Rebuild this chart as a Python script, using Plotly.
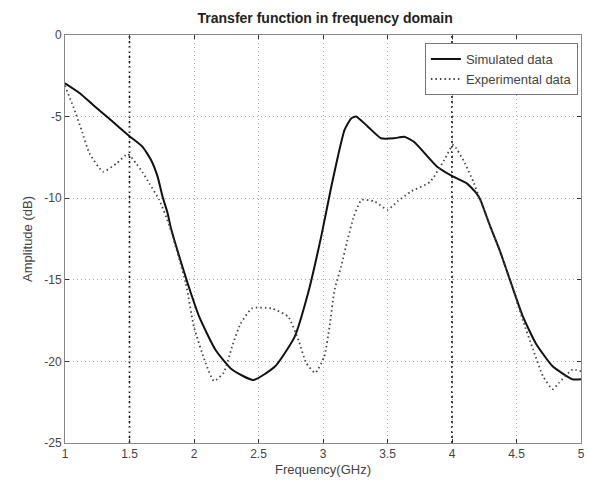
import plotly.graph_objects as go

# Data
freq_sim = [1.0, 1.115, 1.218, 1.346, 1.423, 1.5, 1.6, 1.667, 1.718, 1.756, 1.795, 1.82, 1.86,
            1.95, 2.04, 2.167, 2.295, 2.46, 2.63, 2.78, 2.885, 2.99, 3.064, 3.115, 3.167, 3.22,
            3.256, 3.346, 3.45, 3.55, 3.63, 3.705, 3.885, 4.01, 4.115, 4.19, 4.22, 4.295, 4.37,
            4.475, 4.55, 4.65, 4.78, 4.935, 5.0]
amp_sim = [-2.96, -3.57, -4.29, -5.15, -5.68, -6.2, -6.84, -7.66, -8.68, -9.9, -10.9, -11.8,
           -12.9, -15.2, -17.26, -19.3, -20.5, -21.14, -20.3, -18.5, -15.8, -12.2, -9.3, -7.46,
           -5.82, -5.1, -5.0, -5.6, -6.33, -6.33, -6.23, -6.54, -8.07, -8.68, -9.09, -9.7, -10.1,
           -11.7, -13.2, -15.6, -17.26, -18.9, -20.3, -21.1, -21.1]

freq_exp = [1.0, 1.064, 1.128, 1.19, 1.295, 1.40, 1.487, 1.55, 1.6, 1.654, 1.73, 1.81, 1.936,
            2.0, 2.09, 2.154, 2.23, 2.295, 2.36, 2.45, 2.60, 2.73, 2.81, 2.87, 2.94, 3.01, 3.05,
            3.09, 3.14, 3.19, 3.24, 3.3, 3.4, 3.5, 3.577, 3.68, 3.83, 3.94, 4.01, 4.10, 4.17,
            4.295, 4.37, 4.475, 4.55, 4.63, 4.705, 4.78, 4.83, 4.935, 5.0]
amp_exp = [-3.1, -4.39, -5.82, -7.25, -8.37, -7.86, -7.3, -7.86, -8.4, -9.1, -10.1, -11.7,
           -15.2, -17.9, -20.1, -21.2, -20.7, -19.1, -17.7, -16.75, -16.75, -17.26, -18.7,
           -20.1, -20.7, -19.7, -17.9, -15.6, -14.2, -12.56, -11.1, -10.1, -10.2, -10.7, -10.2,
           -9.6, -9.0, -7.66, -6.74, -7.86, -9.09, -11.7, -13.2, -15.6, -17.5, -19.3, -20.9,
           -21.7, -21.3, -20.5, -20.6]

x_ticks = [1, 1.5, 2, 2.5, 3, 3.5, 4, 4.5, 5]
x_tick_labels = ["1", "1.5", "2", "2.5", "3", "3.5", "4", "4.5", "5"]
y_ticks = [0, -5, -10, -15, -20, -25]
y_tick_labels = ["0", "-5", "-10", "-15", "-20", "-25"]
dark_grid_x = [1.5, 4]

FONT = "Liberation Sans"

fig = go.Figure()
fig.add_trace(go.Scatter(x=freq_sim, y=amp_sim, mode="lines", name="Simulated data",
                         line=dict(color="#111111", width=2, shape="spline", smoothing=0.5)))
fig.add_trace(go.Scatter(x=freq_exp, y=amp_exp, mode="lines", name="Experimental data",
                         line=dict(color="#444444", width=1.8, dash="1.5px,3px", shape="spline",
                                   smoothing=0.5)))

for xv in dark_grid_x:
    fig.add_vline(x=xv, line=dict(color="#111111", width=1.6, dash="2px,3px"), layer="below")

axis_common = dict(showline=True, linecolor="#888888", linewidth=1, mirror="ticks",
                   ticks="inside", ticklen=4, tickcolor="#333333",
                   showgrid=True, gridcolor="#a8a8a8", griddash="1px,3px", gridwidth=1,
                   zeroline=False, tickfont=dict(family=FONT, size=12, color="#444444"))

fig.update_xaxes(range=[1, 5], tickvals=x_ticks, ticktext=x_tick_labels,
                 title=dict(text="Frequency(GHz)", font=dict(family=FONT, size=13, color="#444444"),
                            standoff=4),
                 **axis_common)
fig.update_yaxes(range=[-25, 0], tickvals=y_ticks, ticktext=y_tick_labels,
                 title=dict(text="Amplitude (dB)", font=dict(family=FONT, size=13, color="#444444"),
                            standoff=8),
                 **axis_common)

fig.update_layout(
    width=589, height=493,
    margin=dict(l=65, r=4, t=35, b=50),
    paper_bgcolor="white", plot_bgcolor="white",
    title=dict(text="<b>Transfer function in frequency domain</b>", x=0.552, xanchor="center",
               y=0.963, yanchor="middle", font=dict(family=FONT, size=14, color="#222222")),
    legend=dict(x=0.994, y=0.98, xanchor="right", yanchor="top",
                bgcolor="white", bordercolor="#777777", borderwidth=1,
                font=dict(family=FONT, size=13, color="#444444"),
                tracegroupgap=0),
    showlegend=True,
)

fig.write_html("out.html")
